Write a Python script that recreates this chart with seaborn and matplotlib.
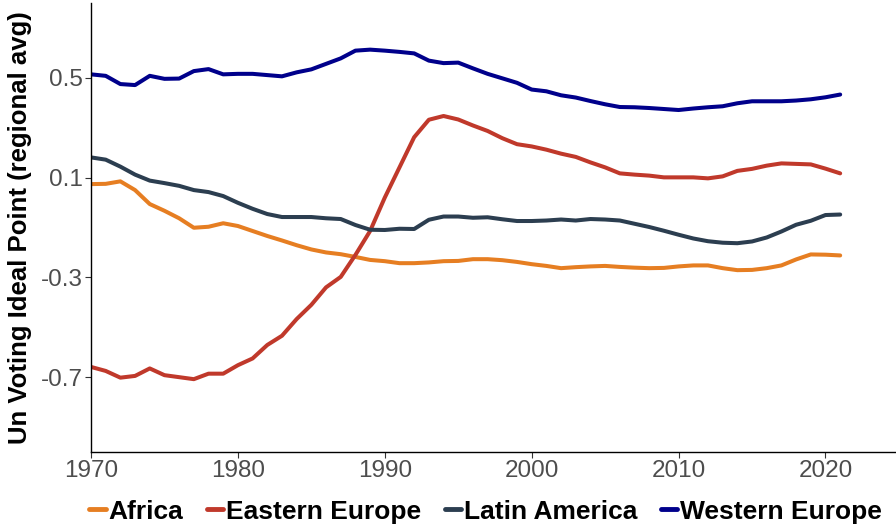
import matplotlib
matplotlib.use("Agg")
import matplotlib.pyplot as plt
import seaborn as sns
import pandas as pd
import numpy as np

years = list(range(1970, 2022))

africa = [0.074, 0.075, 0.085, 0.050, -0.006, -0.033, -0.063, -0.101, -0.097, -0.083,
          -0.094, -0.114, -0.134, -0.152, -0.171, -0.188, -0.200, -0.207, -0.218, -0.230,
          -0.235, -0.243, -0.243, -0.240, -0.235, -0.234, -0.227, -0.227, -0.231, -0.238,
          -0.247, -0.254, -0.263, -0.259, -0.256, -0.254, -0.258, -0.261, -0.263, -0.262,
          -0.256, -0.252, -0.252, -0.263, -0.271, -0.270, -0.263, -0.252, -0.228, -0.208,
          -0.209, -0.212]

eastern_europe = [-0.659, -0.675, -0.702, -0.695, -0.665, -0.692, -0.700, -0.708, -0.686, -0.686,
                  -0.652, -0.625, -0.571, -0.534, -0.467, -0.410, -0.340, -0.298, -0.210, -0.114,
                  0.020, 0.141, 0.262, 0.332, 0.347, 0.333, 0.309, 0.287, 0.258, 0.234,
                  0.225, 0.212, 0.196, 0.183, 0.161, 0.141, 0.117, 0.112, 0.108, 0.101,
                  0.101, 0.101, 0.097, 0.105, 0.127, 0.135, 0.148, 0.157, 0.155, 0.153,
                  0.136, 0.117]

latin_america = [0.181, 0.172, 0.144, 0.112, 0.088, 0.078, 0.067, 0.050, 0.042, 0.026,
                 -0.001, -0.025, -0.046, -0.058, -0.058, -0.058, -0.063, -0.066, -0.090, -0.109,
                 -0.110, -0.105, -0.106, -0.069, -0.056, -0.056, -0.061, -0.059, -0.067, -0.074,
                 -0.074, -0.072, -0.068, -0.072, -0.066, -0.068, -0.072, -0.085, -0.098, -0.113,
                 -0.129, -0.144, -0.155, -0.161, -0.163, -0.156, -0.140, -0.116, -0.089, -0.073,
                 -0.050, -0.048]

western_europe = [0.514, 0.508, 0.475, 0.471, 0.508, 0.496, 0.497, 0.527, 0.535, 0.514,
                  0.516, 0.516, 0.511, 0.506, 0.522, 0.534, 0.556, 0.578, 0.609, 0.613,
                  0.609, 0.604, 0.598, 0.569, 0.559, 0.561, 0.538, 0.516, 0.498, 0.480,
                  0.453, 0.446, 0.430, 0.421, 0.407, 0.394, 0.383, 0.382, 0.379, 0.375,
                  0.371, 0.377, 0.382, 0.386, 0.398, 0.406, 0.406, 0.406, 0.409, 0.414,
                  0.422, 0.433]

regions = ["Africa", "Eastern Europe", "Latin America", "Western Europe"]
colors = ["#E67E22", "#C0392B", "#2C3E50", "#00008B"]
yticks = [0.5, 0.1, -0.3, -0.7]
xticks = [1970, 1980, 1990, 2000, 2010, 2020]

df = pd.concat([
    pd.DataFrame({"year": years, "value": v, "region": r})
    for r, v in zip(regions, [africa, eastern_europe, latin_america, western_europe])
], ignore_index=True)

sns.set_theme(style="white")
plt.rcParams['font.family'] = ['Liberation Sans', 'DejaVu Sans']

fig = plt.figure(figsize=(8.96, 5.29), dpi=100)
ax = fig.add_axes([91/896, 1-452/529, 1-91/896, (452-3)/529])

sns.lineplot(data=df, x="year", y="value", hue="region", hue_order=regions,
             palette=dict(zip(regions, colors)), linewidth=2.9, ax=ax, legend=False)

ax.set_xlim(1970, 2024.8)
ax.set_ylim(-1.0, 0.8)
ax.set_xticks(xticks)
ax.set_yticks(yticks)
ax.set_yticklabels([f"{t:g}" for t in yticks])
ax.tick_params(axis="both", which="major", labelsize=17.5, labelcolor="#4D4D4D",
               length=4, width=0.8, color="#333333", direction="out", pad=2,
               bottom=True, left=True)
for s in ["top", "right"]:
    ax.spines[s].set_visible(False)
for s in ["left", "bottom"]:
    ax.spines[s].set_color("black")
    ax.spines[s].set_linewidth(1.0)

ax.set_xlabel("")
ax.set_ylabel("Un Voting Ideal Point (regional avg)", fontsize=18.5,
              fontweight="bold", color="black", labelpad=6)

handles = [plt.Line2D([0], [0], color=c, lw=3.5) for c in colors]
leg = ax.legend(handles, regions, loc="center", bbox_to_anchor=(0.49, -0.133),
                ncol=4, frameon=False, handlelength=0.62, handletextpad=0.1,
                columnspacing=0.9, prop={"weight": "bold", "size": 19})
for t in leg.get_texts():
    t.set_color("black")

fig.savefig("out.png", dpi=100)
